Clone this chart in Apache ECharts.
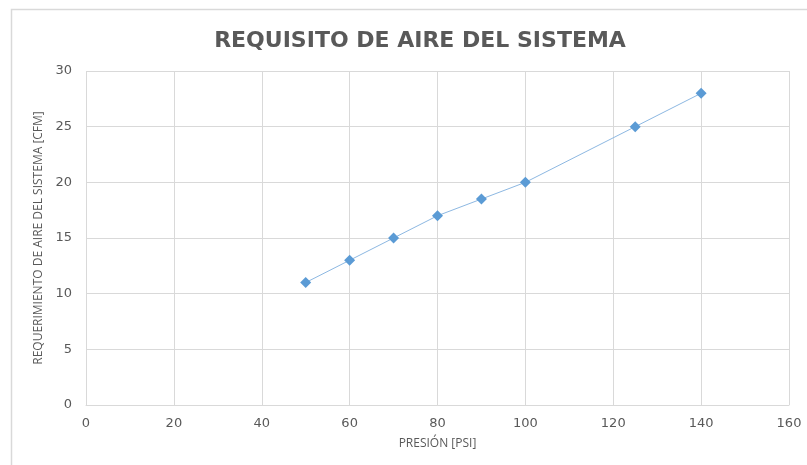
<!DOCTYPE html>
<html>
<head>
<meta charset="utf-8">
<script src="https://cdn.jsdelivr.net/npm/echarts@6/dist/echarts.min.js"></script>
<style>html,body{margin:0;padding:0;background:#fff}#c{width:807px;height:465px}</style>
</head>
<body>
<div id="c"></div>
<script>
const titleText = "REQUISITO DE AIRE DEL SISTEMA";
const xName = "PRESIÓN [PSI]";
const yName = "REQUERIMIENTO DE AIRE DEL SISTEMA [CFM]";
const pressure = [50, 60, 70, 80, 90, 100, 125, 140];
const airFlow = [11, 13, 15, 17, 18.5, 20, 25, 28];

const chart = echarts.init(document.getElementById('c'));
chart.setOption({
  animation: false,
  backgroundColor: '#fff',
  graphic: [{
    type: 'rect', silent: true,
    shape: { x: 11.5, y: 9.5, width: 900, height: 600 },
    style: { fill: 'none', stroke: '#D9D9D9', lineWidth: 1.5 }
  }],
  title: {
    text: titleText,
    left: 415, top: 25, textAlign: 'center',
    textStyle: { fontFamily: 'DejaVu Sans', fontWeight: 'bold', fontSize: 22, color: '#595959' }
  },
  grid: { left: 86, right: 18, top: 71, bottom: 60 },
  xAxis: {
    type: 'value', min: 0, max: 160, interval: 20,
    name: xName, nameLocation: 'middle', nameGap: 33,
    nameTextStyle: { fontFamily: 'Open Sans', fontSize: 12, color: '#595959' },
    axisLine: { show: true, lineStyle: { color: '#D9D9D9' } },
    axisTick: { show: false },
    axisLabel: { margin: 12, fontFamily: 'DejaVu Sans', fontSize: 13, color: '#595959' },
    splitLine: { show: true, lineStyle: { color: '#D9D9D9' } }
  },
  yAxis: {
    type: 'value', min: 0, max: 30, interval: 5,
    name: yName, nameLocation: 'middle', nameGap: 36,
    nameTextStyle: { fontFamily: 'Open Sans', fontSize: 12, color: '#595959' },
    axisLine: { show: false },
    axisTick: { show: false },
    axisLabel: { margin: 14, fontFamily: 'DejaVu Sans', fontSize: 13, color: '#595959' },
    splitLine: { show: true, lineStyle: { color: '#D9D9D9' } }
  },
  series: [{
    type: 'line',
    data: pressure.map((p, i) => [p, airFlow[i]]),
    symbol: 'diamond', symbolSize: 11, showAllSymbol: true,
    itemStyle: { color: '#5B9BD5' },
    lineStyle: { color: '#8DB8E2', width: 1 }
  }]
});
</script>
</body>
</html>
